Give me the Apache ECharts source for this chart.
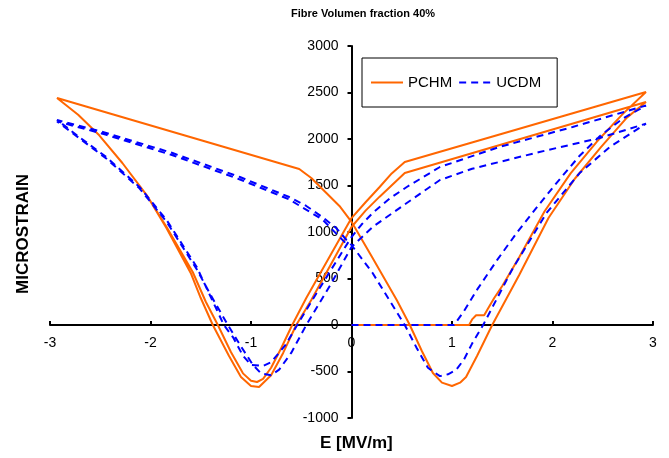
<!DOCTYPE html>
<html>
<head>
<meta charset="utf-8">
<script src="https://cdn.jsdelivr.net/npm/echarts@6/dist/echarts.min.js"></script>
<style>
  html, body { margin: 0; padding: 0; background: #fff; }
  #chart { width: 669px; height: 458px; }
</style>
</head>
<body>
<div id="chart"></div>
<script>
// E [MV/m], microstrain pairs, in loading order
const pchm = [
  // virgin curve
  [0, 0], [0.5, 0], [1.17, 0], [1.2, 60], [1.24, 105], [1.32, 105], [1.36, 180], [1.42, 290],
  [1.5, 420], [1.67, 731], [1.92, 1220], [2.18, 1630], [2.44, 1970], [2.7, 2270], [2.93, 2505],
  // down to -Emax
  [0.53, 1753], [0.4, 1630], [0.28, 1484], [0.14, 1320], [0, 1150], [-0.2, 768], [-0.45, 290],
  [-0.59, 0], [-0.7, -250], [-0.8, -460], [-0.88, -580], [-0.94, -613], [-1.0, -600], [-1.08, -520],
  [-1.2, -290], [-1.33, 0], [-1.45, 250], [-1.58, 570], [-1.84, 1054], [-2.04, 1400], [-2.28, 1742],
  [-2.51, 2040], [-2.72, 2260], [-2.93, 2441],
  // up to +Emax
  [-0.52, 1677], [-0.4, 1580], [-0.25, 1419], [-0.12, 1280], [0, 1110], [0.2, 740], [0.45, 269],
  [0.58, 0], [0.7, -280], [0.81, -516], [0.9, -620], [1.0, -656], [1.08, -620], [1.14, -559],
  [1.25, -330], [1.4, 0], [1.67, 540], [1.96, 1150], [2.22, 1570], [2.48, 1910], [2.74, 2230], [2.93, 2398],
  // down again
  [0.53, 1634], [0.28, 1380], [0.14, 1230], [0, 1054], [-0.2, 662], [-0.4, 269], [-0.55, 0],
  [-0.68, -300], [-0.8, -540], [-0.92, -667], [-1.0, -655], [-1.1, -560], [-1.22, -330], [-1.38, 0],
  [-1.5, 290], [-1.6, 560], [-1.84, 1040], [-2.04, 1400], [-2.28, 1742], [-2.51, 2040],
  [-2.72, 2260], [-2.93, 2441]
];

const ucdm = [
  // virgin curve
  [0, 0], [0.5, 0], [1.02, 0], [1.12, 150], [1.25, 380], [1.45, 700], [1.65, 1000], [1.87, 1300],
  [2.05, 1540], [2.27, 1820], [2.47, 2030], [2.7, 2220], [2.93, 2360],
  // down to -Emax
  [2.2, 2129], [1.47, 1914], [0.88, 1699], [0.55, 1484], [0.38, 1360], [0.21, 1204], [0.1, 1080],
  [0, 946], [-0.2, 600], [-0.4, 250], [-0.54, 0], [-0.66, -220], [-0.8, -400], [-0.88, -440],
  [-1.0, -430], [-1.08, -330], [-1.18, -130], [-1.27, 0], [-1.4, 300], [-1.54, 624], [-1.84, 1129],
  [-2.11, 1484], [-2.44, 1806], [-2.71, 2022], [-2.93, 2205],
  // up to +Emax
  [-2.44, 2065], [-1.78, 1849], [-1.11, 1591], [-0.62, 1376], [-0.45, 1280], [-0.29, 1161],
  [-0.15, 1040], [-0.05, 914], [0, 860], [0.21, 559], [0.53, 0], [0.65, -250], [0.76, -460],
  [0.88, -550], [0.96, -530], [1.04, -484], [1.12, -370], [1.2, -200], [1.31, 0], [1.6, 600],
  [1.94, 1204], [2.27, 1634], [2.57, 1914], [2.93, 2165],
  // down again
  [2.47, 2011], [1.87, 1860], [1.2, 1680], [0.88, 1559], [0.55, 1312], [0.21, 1054], [0, 839],
  [-0.2, 450], [-0.45, 0], [-0.6, -300], [-0.72, -480], [-0.8, -540], [-0.9, -520], [-0.98, -430],
  [-1.1, -230], [-1.23, 0], [-1.4, 320], [-1.54, 600], [-1.84, 1110], [-2.11, 1470], [-2.44, 1790],
  [-2.71, 2010], [-2.93, 2190],
  // up again (partial)
  [-2.44, 2045], [-1.78, 1825], [-1.11, 1565], [-0.62, 1350], [-0.29, 1135], [-0.04, 860]
];

const font = 'Liberation Sans, Arial, sans-serif';
const gridBox = { left: 50, right: 16, top: 46, bottom: 40, width: 603, height: 372 };

// axes cross at (0, 0): shift them from the grid edges onto the zero lines
const yShift = -gridBox.width * 0.5;
const xShift = -gridBox.height * 0.25;

const chart = echarts.init(document.getElementById('chart'), null, { renderer: 'canvas' });
chart.setOption({
  animation: false,
  grid: { left: gridBox.left, right: gridBox.right, top: gridBox.top, bottom: gridBox.bottom },
  legend: {
    left: 362, top: 58,
    padding: [17, 16, 17, 8],
    borderColor: '#000', borderWidth: 1,
    itemWidth: 32, itemHeight: 14, itemGap: 6,
    itemStyle: { opacity: 0 },
    textStyle: { fontFamily: font, fontSize: 15, color: '#000' },
    data: ['PCHM', 'UCDM']
  },
  xAxis: {
    type: 'value', min: -3, max: 3, interval: 1,
    position: 'bottom', offset: xShift,
    axisLine: { onZero: false, lineStyle: { color: '#000', width: 2 } },
    axisTick: { inside: true, length: 4, lineStyle: { color: '#000', width: 2 } },
    axisLabel: { fontFamily: font, fontSize: 14, color: '#000', margin: 11, showMinLabel: true, showMaxLabel: true,
      formatter: v => String(v) },
    splitLine: { show: false }
  },
  yAxis: {
    type: 'value', min: -1000, max: 3000, interval: 500,
    position: 'left', offset: yShift,
    axisLine: { onZero: false, lineStyle: { color: '#000', width: 2 } },
    axisTick: { length: 4, lineStyle: { color: '#000', width: 2 } },
    axisLabel: { fontFamily: font, fontSize: 14, color: '#000', margin: 13, formatter: v => String(v) },
    splitLine: { show: false }
  },
  graphic: [
    { type: 'text', left: 291, top: 8, style: { text: 'Fibre Volumen fraction 40%', font: 'bold 11px ' + font, fill: '#000' } },
    { type: 'text', left: 320, top: 435, style: { text: 'E [MV/m]', font: 'bold 17px ' + font, fill: '#000' } },
    { type: 'text', x: 15, y: 294, rotation: Math.PI / 2, style: { text: 'MICROSTRAIN', font: 'bold 17px ' + font, fill: '#000' } }
  ],
  series: [
    {
      name: 'PCHM', type: 'line', data: pchm, showSymbol: false, symbol: 'none',
      lineStyle: { color: '#FF6600', width: 2 }, itemStyle: { color: '#FF6600' }, z: 2
    },
    {
      name: 'UCDM', type: 'line', data: ucdm, showSymbol: false, symbol: 'none',
      lineStyle: { color: '#0000FF', width: 2, type: [7, 5] }, itemStyle: { color: '#0000FF' }, z: 3
    }
  ]
});
</script>
</body>
</html>
